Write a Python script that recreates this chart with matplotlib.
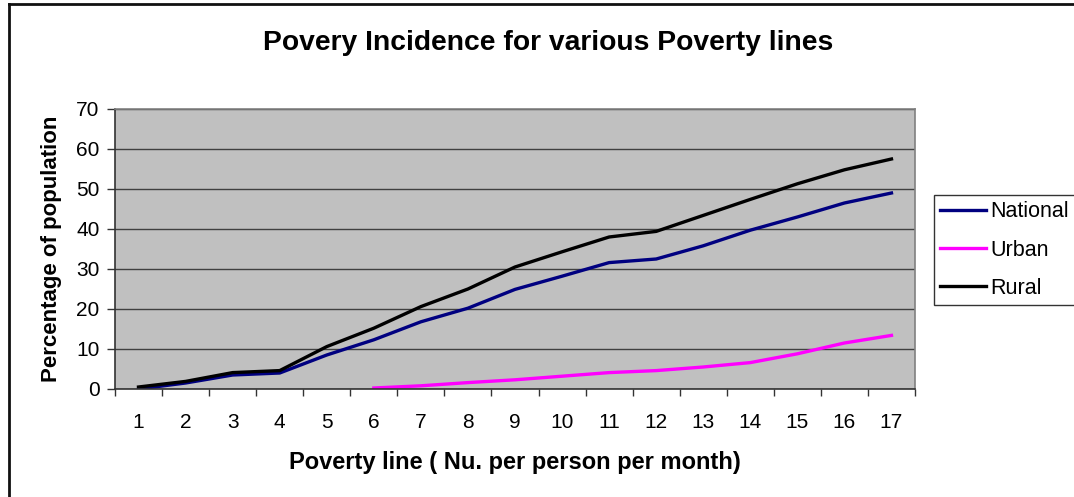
import numpy as np
import matplotlib
matplotlib.use("Agg")
import matplotlib.pyplot as plt
from matplotlib.lines import Line2D

plt.rcParams["font.family"] = ["Liberation Sans", "DejaVu Sans"]

# Poverty line categories and incidence (% of population)
categories = [str(i) for i in range(1, 18)]
national = [0.0, 1.5, 3.5, 4.0, 8.5, 12.3, 16.8, 20.2, 24.9, 28.2, 31.6, 32.5, 35.8, 39.7, 43.0, 46.5, 49.0]
urban = [np.nan, np.nan, np.nan, np.nan, np.nan, 0.25, 0.8, 1.6, 2.3, 3.2, 4.1, 4.6, 5.5, 6.6, 8.8, 11.5, 13.4]
rural = [0.5, 1.9, 4.1, 4.6, 10.6, 15.2, 20.6, 25.0, 30.5, 34.3, 38.0, 39.4, 43.4, 47.4, 51.3, 54.8, 57.5]
y_ticks = [0, 10, 20, 30, 40, 50, 60, 70]

fig = plt.figure(figsize=(10.74, 4.97), dpi=100)
ax = fig.add_axes([115 / 1074, 1 - 389 / 497, 800 / 1074, 280 / 497])
ax.set_facecolor("#C0C0C0")

x = np.arange(1, len(categories) + 1)
ax.plot(x, national, color="#000080", lw=2.4, label="National", solid_joinstyle="round")
ax.plot(x, urban, color="#FF00FF", lw=2.4, label="Urban", solid_joinstyle="round")
ax.plot(x, rural, color="#000000", lw=2.4, label="Rural", solid_joinstyle="round")

ax.set_xlim(0.5, len(categories) + 0.5)
ax.set_ylim(0, 70)
ax.set_yticks(y_ticks)
ax.set_yticklabels([str(v) for v in y_ticks], fontsize=15)
ax.set_xticks(x)
ax.set_xticklabels(categories, fontsize=15)
ax.set_xticks(np.arange(0.5, len(categories) + 1, 1), minor=True)
ax.tick_params(axis="x", which="major", length=0, pad=17)
ax.tick_params(axis="x", which="minor", length=5, width=1, direction="out", color="#333333")
ax.tick_params(axis="y", which="major", length=6, width=1, direction="out", color="#333333", pad=5)

ax.yaxis.grid(True, color="#404040", lw=1)
ax.set_axisbelow(True)
for side in ["top", "right"]:
    ax.spines[side].set_color("#808080")
    ax.spines[side].set_linewidth(1.2)
for side in ["left", "bottom"]:
    ax.spines[side].set_color("#333333")
    ax.spines[side].set_linewidth(1.2)

ax.set_xlabel("Poverty line ( Nu. per person per month)", fontsize=17, fontweight="bold", labelpad=14)
ax.set_ylabel("Percentage of population", fontsize=16, fontweight="bold", labelpad=10)

fig.text(548 / 1074, 1 - 43 / 497, "Povery Incidence for various Poverty lines",
         ha="center", va="center", fontsize=20.3, fontweight="bold")

leg = fig.legend(loc="upper left", bbox_to_anchor=(934 / 1074, 1 - 195 / 497),
                 fontsize=15.5, frameon=True, fancybox=False, shadow=False,
                 handlelength=2.1, handletextpad=0.2, labelspacing=0.8,
                 borderpad=0.3, borderaxespad=0)
leg.get_frame().set_edgecolor("#000000")
leg.get_frame().set_linewidth(1.0)

# chart frame (top and left edges)
fig.add_artist(Line2D([8.5 / 1074, 8.5 / 1074], [0, 1 - 3.5 / 497], transform=fig.transFigure,
                      color="#111111", lw=2))
fig.add_artist(Line2D([8.5 / 1074, 1], [1 - 3.5 / 497, 1 - 3.5 / 497], transform=fig.transFigure,
                      color="#111111", lw=2))

fig.savefig("out.png", dpi=100)
